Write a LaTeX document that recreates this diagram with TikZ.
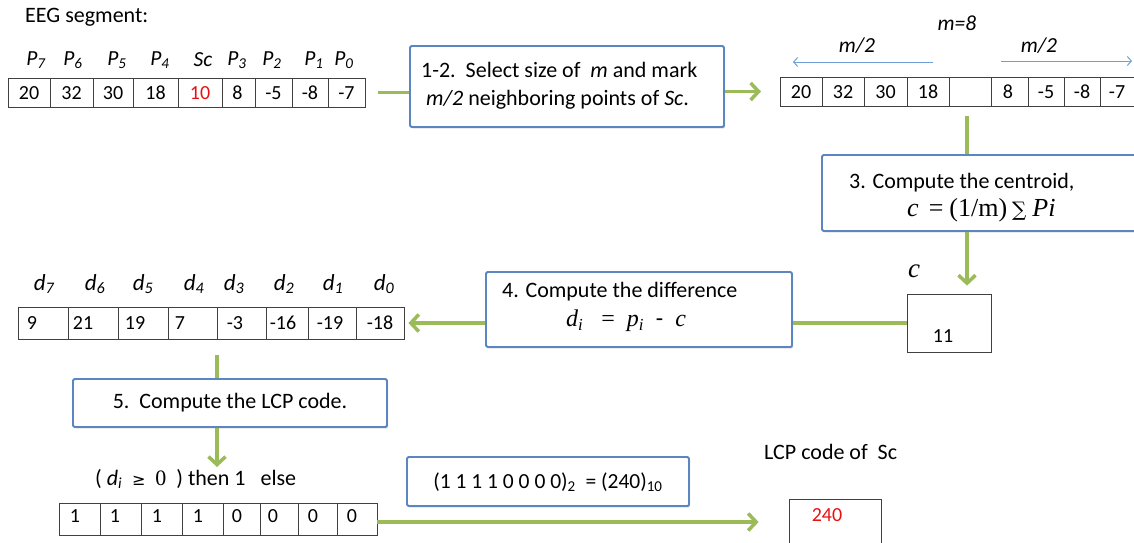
\documentclass[tikz,border=0pt]{standalone}
\usepackage{fontspec}
\setmainfont{Carlito}
\newfontfamily\serif{Liberation Serif}
\newfontfamily\dvserif{DejaVu Serif}
\newfontfamily\dejavu{DejaVu Sans}
\newfontfamily\calib{Carlito}
\usetikzlibrary{arrows.meta,shadows}
\definecolor{grn}{HTML}{9BBB59}
\definecolor{bbord}{HTML}{5B86C1}
\definecolor{blar}{HTML}{6E9FD6}
\definecolor{redt}{HTML}{E81010}
\tikzset{
  cell/.style={draw=black!75, line width=0.8pt, inner sep=0pt},
  stepbox/.style={draw=bbord, line width=1.8pt, fill=white, rounded corners=1.5pt, inner sep=0pt,
    drop shadow={shadow xshift=1.2pt, shadow yshift=-1.4pt, opacity=0.3, fill=black!70}},
  flow/.style={draw=grn, line width=3.5pt},
  flowarr/.style={flow, -{Straight Barb[length=8pt,width=17pt]}},
  blarr/.style={draw=blar, line width=1pt, -{Straight Barb[length=4pt,width=9pt]}},
  num/.style={font=\fontsize{20}{24}\selectfont, inner sep=0pt},
  boxtxt/.style={font=\fontsize{22}{26}\selectfont, inner sep=0pt, anchor=west},
  lbl/.style={font=\fontsize{22}{26}\selectfont, inner sep=0pt},
  ilbl/.style={font=\fontsize{21.5}{25}\selectfont\itshape, inner sep=0pt},
  dlbl/.style={font=\fontsize{23}{27}\selectfont\itshape, inner sep=0pt},
  mth/.style={font=\fontsize{24}{28}\selectfont\serif, inner sep=0pt, anchor=west},
}
\begin{document}
\begin{tikzpicture}[x=1pt,y=-1pt]
\useasboundingbox (0,0) rectangle (1134,542);
\clip (0,0) rectangle (1134,542);

% ---------- EEG segment ----------
\node[lbl, anchor=west] (eeg) at (25,17) {EEG segment:};
\node[cell, minimum width=357pt, minimum height=29pt] (t1) at (186.5,92.5) {};
\foreach \x in {50,93,133,178,222,255,292,328} \draw[cell] (\x,78) -- (\x,107);
\foreach \x/\v [count=\i] in {29/20,71.5/32,113/30,155.5/18,237.5/8,273.5/-5,310/-8,346.5/-7}
  \node[num] (v1\i) at (\x,93) {\v};
\node[num, text=redt] (sc) at (200,93) {10};
\foreach \x/\s [count=\i] in {36/7,73/6,117/5,160/4,237/3,272/2,314/1,344/0}
  \node[ilbl] (p\i) at (\x,60) {P\textsubscript{\s}};
\node[ilbl] (psc) at (203,60) {Sc};

% ---------- marked segment ----------
\coordinate (t2w) at (780,91.5);
\node[cell, minimum width=370pt, minimum height=29pt] (t2) at (965,91.5) {};
\foreach \x in {822,864,907,949,991,1028,1064,1100} \draw[cell] (\x,77) -- (\x,106);
\foreach \x/\v [count=\i] in {801/20,843/32,885.5/30,928/18,1008/8,1046/-5,1082/-8,1117/-7}
  \node[num] (v2\i) at (\x,92) {\v};
\node[ilbl] (m8) at (957,23) {m=8};
\node[ilbl] (mh1) at (857,46) {m/2};
\node[ilbl] (mh2) at (1039,46) {m/2};
\coordinate (la) at (933,62); \coordinate (lb) at (793,62);
\coordinate (ra) at (1001,61); \coordinate (rb) at (1132,61);
\draw[blarr] (la) -- (lb);
\draw[blarr] (ra) -- (rb);

% ---------- step 1-2 ----------
\node[stepbox, minimum width=314pt, minimum height=81pt] (b1) at (567,86.5) {};
\node[boxtxt] (b1a) at (421,70) {1-2.\ \ Select size of \ \textit{m} and mark};
\node[boxtxt] (b1b) at (426,100) {\textit{m/2} neighboring points of \textit{Sc}.};
\draw[flow] ([xshift=13pt]t1.east) -- (b1.west |- t1.east);
\draw[flowarr, shorten >=19pt] (b1.east |- t2w) -- (t2w);

% ---------- step 3 ----------
\coordinate (ax) at (967,0);
\node[stepbox, minimum width=330pt, minimum height=76pt] (b3) at (987,193) {};
\draw[flow] ([yshift=-10pt]t2.south -| ax) -- (b3.north -| ax);
\node[boxtxt] (b3a) at (849,183) {3. Compute the centroid,};
\node[mth, font=\fontsize{26}{30}\selectfont\serif] (b3b) at (907,210) {\textit{c}\hspace{10pt}=\hspace{6pt}(1/m)\hspace{5pt}{\dvserif\fontsize{20}{24}\selectfont ∑}\hspace{6pt}\textit{Pi}};

% ---------- centroid value ----------
\node[cell, minimum width=84pt, minimum height=58pt] (bc) at (949,323) {};
\node[num] (c11) at (943,336) {11};
\node[font=\fontsize{27}{30}\selectfont\serif\itshape, inner sep=0pt] (clbl) at (914,271) {c};
\draw[flowarr, shorten >=8pt] (b3.south -| ax) -- (bc.north -| ax);

% ---------- step 4 ----------
\node[stepbox, minimum width=306pt, minimum height=75pt] (b4) at (639,309.5) {};
\node[boxtxt] (b4a) at (502,292) {4. Compute the difference};
\node[mth, anchor=center] (b4b) at (626,321) {\textit{d}\textsubscript{\textit{i}}\ \ \ =\ \ \textit{p}\textsubscript{\textit{i}}\ \ {\calib -}\ \ \textit{c}};
\draw[flow] (bc.west) -- (bc.west -| b4.east);

% ---------- differences ----------
\node[cell, minimum width=386pt, minimum height=32pt] (t3) at (211,323) {};
\foreach \x in {68,118,168,217,266,308,356} \draw[cell] (\x,307) -- (\x,339);
\foreach \x/\v [count=\i] in {32/9,83/21,135/19,180/7,235/-3,283/-16,330/-19,380/-18}
  \node[num] (v3\i) at (\x,323) {\v};
\foreach \x/\s [count=\i] in {44/7,95/6,143/5,194/4,234/3,284/2,333/1,384/0}
  \node[dlbl] (d\i) at (\x,284) {d\textsubscript{\s}};
\draw[flowarr, shorten >=4pt] (b4.west |- t3.east) -- (t3.east);

% ---------- step 5 ----------
\coordinate (ax2) at (217,0);
\node[stepbox, minimum width=314pt, minimum height=48pt] (b5) at (230,403) {};
\node[font=\fontsize{22}{26}\selectfont, inner sep=0pt] (b5a) at (230,403) {5.\ \ Compute the LCP code.};
\draw[flow] ([yshift=-16pt]t3.south -| ax2) -- (b5.north -| ax2);
\node[lbl, anchor=west] (cond) at (95,479) {( \textit{d}\textsubscript{\textit{i}} \ {\dejavu\fontsize{16}{18}\selectfont ≥} \ {\serif 0} \ ) then 1 \ \ else};
\draw[flowarr, shorten >=2pt] (b5.south -| ax2) -- (cond.north -| ax2);

% ---------- binary code ----------
\node[cell, minimum width=318pt, minimum height=32pt] (t4) at (218,519) {};
\foreach \x in {100,141,182,223,260,298,337} \draw[cell] (\x,503) -- (\x,535);
\foreach \x/\v [count=\i] in {75/1,115/1,157/1,198/1,237/0,273/0,313/0,352/0}
  \node[num] (v4\i) at (\x,516) {\v};

\node[stepbox, minimum width=282pt, minimum height=49pt] (b6) at (548,481.5) {};
\node[font=\fontsize{21.5}{25}\selectfont, inner sep=0pt] (b6a) at (548,482) {(1 1 1 1 0 0 0 0)\textsubscript{2} \ = (240)\textsubscript{10}};

\node[lbl, anchor=west] (lcp) at (764,452) {LCP code of \ Sc};
\node[cell, minimum width=92pt, minimum height=60pt] (b240) at (835,529) {};
\node[num, text=redt] (r240) at (827,515) {240};
\draw[flowarr, shorten >=30pt] ([yshift=-3pt]t4.east) -- ([yshift=-3pt]t4.east -| b240.west);
\end{tikzpicture}
\end{document}
